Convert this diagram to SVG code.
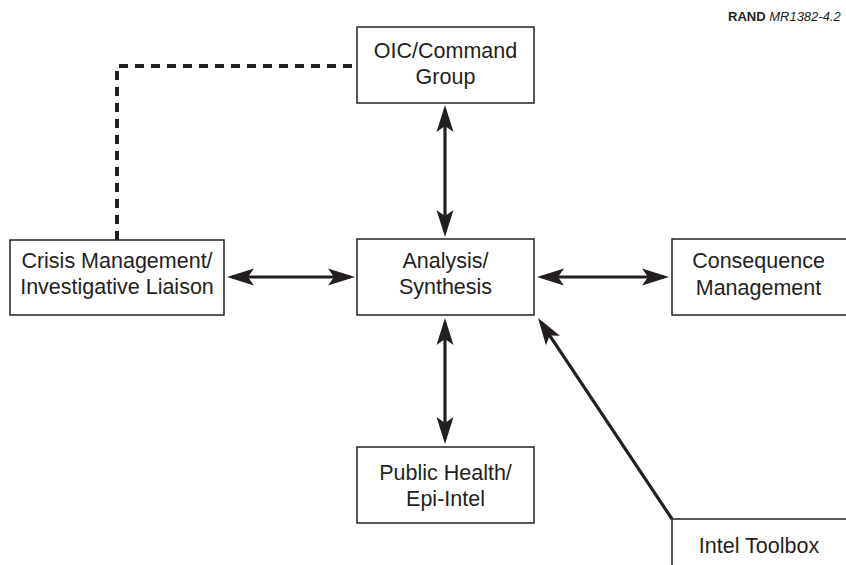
<svg xmlns="http://www.w3.org/2000/svg" width="846" height="565" viewBox="0 0 846 565">
<style>
.box{fill:#fff;stroke:#231f20;stroke-width:1.5}
.lbl{font-family:"Liberation Sans",Arial,sans-serif;font-size:21.5px;fill:#231f20;text-anchor:middle}
.conn{stroke:#231f20;stroke-width:3.2;fill:none}
.dash{stroke:#231f20;stroke-width:4;fill:none;stroke-dasharray:9 7}
</style>
<defs>
<marker id="ah" viewBox="0 0 28 18" refX="22" refY="9" markerWidth="28" markerHeight="18" markerUnits="userSpaceOnUse" orient="auto-start-reverse">
<path d="M27,9 L0,0.5 L6,9 L0,17.5 Z" fill="#231f20"/>
</marker>
</defs>
<rect width="846" height="565" fill="#fff"/>
<g id="connectors">
<path class="dash" d="M117,240 V66 H357"/>
<line class="conn" x1="445" y1="110" x2="445" y2="232" marker-start="url(#ah)" marker-end="url(#ah)"/>
<line class="conn" x1="232" y1="277" x2="350" y2="277" marker-start="url(#ah)" marker-end="url(#ah)"/>
<line class="conn" x1="542" y1="277" x2="664" y2="277" marker-start="url(#ah)" marker-end="url(#ah)"/>
<line class="conn" x1="445" y1="323" x2="445" y2="439" marker-start="url(#ah)" marker-end="url(#ah)"/>
<line class="conn" x1="672" y1="519" x2="540.8" y2="322.2" marker-end="url(#ah)"/>
</g>
<g id="oic">
<rect class="box" x="357" y="27" width="177" height="76"/>
<text class="lbl" x="445.5" y="58">OIC/Command</text>
<text class="lbl" x="445.5" y="84">Group</text>
</g>
<g id="crisis">
<rect class="box" x="10" y="240" width="214" height="75"/>
<text class="lbl" x="117" y="268">Crisis Management/</text>
<text class="lbl" x="117" y="294">Investigative Liaison</text>
</g>
<g id="analysis">
<rect class="box" x="357" y="239" width="177" height="76"/>
<text class="lbl" x="445.5" y="268">Analysis/</text>
<text class="lbl" x="445.5" y="294">Synthesis</text>
</g>
<g id="consequence">
<rect class="box" x="672" y="239" width="180" height="76"/>
<text class="lbl" x="758.5" y="268">Consequence</text>
<text class="lbl" x="758.5" y="295">Management</text>
</g>
<g id="publichealth">
<rect class="box" x="357" y="447" width="177" height="76"/>
<text class="lbl" x="445.5" y="480">Public Health/</text>
<text class="lbl" x="445.5" y="506">Epi-Intel</text>
</g>
<g id="inteltoolbox">
<path class="box" d="M672,570 V519 H852"/>
<text class="lbl" x="759" y="553">Intel Toolbox</text>
</g>
<text x="728" y="21" font-family="'Liberation Sans',Arial,sans-serif" font-size="13" fill="#231f20"><tspan font-weight="bold">RAND</tspan> <tspan font-style="italic">MR1382-4.2</tspan></text>
</svg>
